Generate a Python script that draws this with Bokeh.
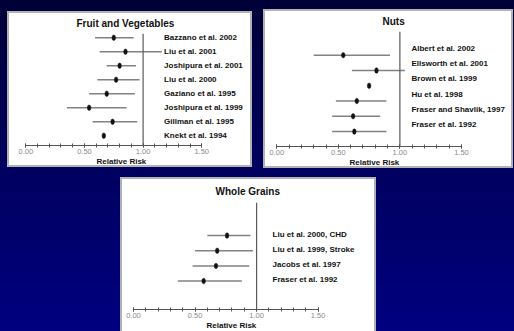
from bokeh.plotting import figure
from bokeh.models import (ColumnDataSource, Range1d, LinearAxis, FixedTicker,
                          PrintfTickFormatter, Span, GlobalInlineStyleSheet,
                          InlineStyleSheet, Title)
from bokeh.layouts import column, row
from bokeh.core.properties import value
from bokeh.embed import file_html
from bokeh.resources import INLINE

# ---------------- data ----------------
fv_studies = ["Bazzano et al. 2002", "Liu et al. 2001", "Joshipura et al. 2001",
              "Liu et al. 2000", "Gaziano et al. 1995", "Joshipura et al. 1999",
              "Gillman et al. 1995", "Knekt et al. 1994"]
fv_rr = [0.75, 0.85, 0.80, 0.77, 0.69, 0.54, 0.74, 0.665]
fv_lo = [0.59, 0.63, 0.69, 0.61, 0.54, 0.35, 0.57, 0.665]
fv_hi = [0.92, 1.16, 0.94, 0.97, 0.93, 0.86, 0.95, 0.665]

nuts_studies = ["Albert et al. 2002", "Ellsworth et al. 2001", "Brown et al. 1999",
                "Hu et al. 1998", "Fraser and Shavlik, 1997", "Fraser et al. 1992"]
nuts_rr = [0.54, 0.81, 0.75, 0.65, 0.62, 0.63]
nuts_lo = [0.30, 0.61, 0.75, 0.48, 0.45, 0.45]
nuts_hi = [0.92, 1.04, 0.75, 0.89, 0.84, 0.89]

wg_studies = ["Liu et al. 2000, CHD", "Liu et al. 1999, Stroke",
              "Jacobs et al. 1997", "Fraser et al. 1992"]
wg_rr = [0.76, 0.68, 0.67, 0.57]
wg_lo = [0.60, 0.50, 0.48, 0.36]
wg_hi = [0.95, 0.97, 0.94, 0.88]

major_ticks = [0.0, 0.5, 1.0, 1.5]
minor_ticks = [0.0, 0.1, 0.2, 0.3, 0.4, 0.5, 0.6, 0.7, 0.8, 0.9,
               1.0, 1.1, 1.2, 1.3, 1.4, 1.5]
reference_rr = 1.0
axis_title = "Relative Risk"

FONT = value("Liberation Sans")


def panel(title, studies, rr, lo, hi, width, height, xr, yr, top, bottom,
          title_left, title_standoff, xlabel_left, label_dx, label_dy,
          margin, border_css):
    p = figure(width=width, height=height, output_backend="svg",
               toolbar_location=None, x_axis_type=None, y_axis_type=None,
               x_range=Range1d(*xr), y_range=Range1d(*yr),
               min_border_left=0, min_border_right=0,
               min_border_top=top, min_border_bottom=bottom,
               background_fill_color="white", border_fill_color="white",
               margin=margin)
    p.outline_line_color = None
    p.grid.visible = False
    p.stylesheets = [InlineStyleSheet(css=(
        ":host { background: #ffffff; } "
        ":host::after { content: ''; position: absolute; left: 0; top: 0; "
        "right: 0; bottom: 0; " + border_css +
        " box-sizing: border-box; pointer-events: none; z-index: 10; }"))]

    p.title.text = title
    p.title.align = "left"
    p.title.offset = title_left
    p.title.standoff = title_standoff
    p.title.text_font = "Liberation Sans"
    p.title.text_font_size = "10px"
    p.title.text_font_style = "bold"
    p.title.text_color = "#111111"

    ax = LinearAxis(bounds=(0, 1.5),
                    ticker=FixedTicker(ticks=major_ticks, minor_ticks=minor_ticks),
                    formatter=PrintfTickFormatter(format="%.2f"))
    ax.axis_line_color = "#555555"
    ax.major_tick_line_color = "#555555"
    ax.minor_tick_line_color = "#555555"
    ax.major_tick_in = 2
    ax.major_tick_out = 2
    ax.minor_tick_in = 2
    ax.minor_tick_out = 2
    ax.major_label_standoff = 1
    ax.major_label_text_font = "Liberation Sans"
    ax.major_label_text_font_size = "7.5px"
    ax.major_label_text_color = "#8a8a8a"
    p.add_layout(ax, "below")

    p.add_layout(Title(text=axis_title, align="left", offset=xlabel_left,
                       standoff=0, vertical_align="top",
                       text_font="Liberation Sans", text_font_size="8px",
                       text_font_style="bold", text_color="#111111"), "below")

    p.add_layout(Span(location=reference_rr, dimension="height",
                      line_color="#5a5a5a", line_width=1.2))

    src = ColumnDataSource(dict(study=studies, rr=rr, lo=lo, hi=hi,
                                row=list(range(len(studies))),
                                ref=[reference_rr] * len(studies)))
    p.segment(x0="lo", y0="row", x1="hi", y1="row", source=src,
              line_color="#828282", line_width=1.5)
    p.ellipse(x="rr", y="row", width=3.6, height=5.5, width_units="screen",
              height_units="screen", source=src, fill_color="#111111",
              line_color="#111111", line_width=0.5)
    p.text(x="ref", y="row", text="study", source=src, x_offset=label_dx,
           y_offset=label_dy, text_font=FONT, text_font_size="8px",
           text_font_style="bold", text_color="#111111",
           text_baseline="middle", text_align="left")
    return p


BOX = "border: 2px solid #b2b2b2;"
BOX_OPEN = "border: 2px solid #b2b2b2; border-bottom: none;"

p1 = panel("Fruit and Vegetables", fv_studies, fv_rr, fv_lo, fv_hi,
           width=245, height=156, xr=(-0.156, 1.9327), yr=(7.70, -0.30),
           top=21, bottom=21, title_left=69, title_standoff=8.6,
           xlabel_left=89, label_dx=21, label_dy=0,
           margin=(11, 0, 0, 7), border_css=BOX)

p2 = panel("Nuts", nuts_studies, nuts_rr, nuts_lo, nuts_hi,
           width=250, height=159, xr=(-0.108, 1.923), yr=(5.976, -1.55),
           top=20, bottom=21, title_left=119, title_standoff=9,
           xlabel_left=86, label_dx=11.6, label_dy=-7,
           margin=(9, 0, 0, 11), border_css=BOX)

p3 = panel("Whole Grains", wg_studies, wg_rr, wg_lo, wg_hi,
           width=256, height=154, xr=(-0.1056, 1.974), yr=(4.88, -2.184),
           top=25, bottom=20, title_left=95, title_standoff=10.6,
           xlabel_left=86, label_dx=16, label_dy=-1.5,
           margin=(9, 0, 0, 120), border_css=BOX_OPEN)

layout = column(row(p1, p2), p3)
layout.stylesheets = [GlobalInlineStyleSheet(
    css="html { min-height: 100%; background: linear-gradient(to bottom, #000038 0%, #00005e 50%, #000080 100%); } body { background: transparent; }")]

open("out.html", "w").write(file_html(layout, INLINE))
